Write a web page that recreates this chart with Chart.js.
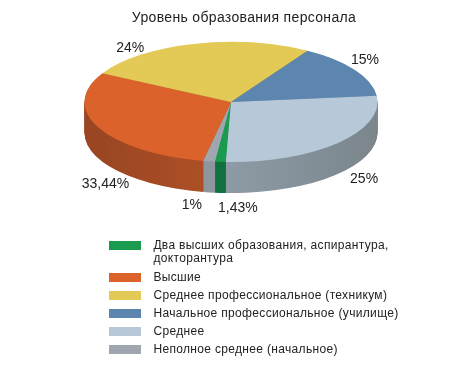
<!DOCTYPE html>
<html>
<head>
<meta charset="utf-8">
<style>body { margin: 0; background: #fff; }</style>
<script src="https://cdn.jsdelivr.net/npm/chart.js@4"></script>
</head>
<body>
<canvas id="chart" width="450" height="366"></canvas>
<script>
// slices, clockwise starting from the green one
const categories = [
    ['Два высших образования, аспирантура,', 'докторантура'],
    'Неполное среднее (начальное)',
    'Высшие',
    'Среднее профессиональное (техникум)',
    'Начальное профессиональное (училище)',
    'Среднее'
];
// the printed labels
const percentLabels = ['1,43%', '1%', '33,44%', '24%', '15%', '25%'];
// wedge sizes as drawn in the picture (the original does not draw them to the printed numbers)
const sliceShares = [1.2, 1.3, 29.9, 25.8, 14.6, 27.2];
// legend position of each slice
const legendOrder = [0, 5, 1, 2, 3, 4];

const colors = ['#1a9b4f', '#9fa6b0', '#db622a', '#e3c955', '#5c86ae', '#b7c8d8'];
const sideFrom = ['#0f7040', '#8f959c', '#9b4623', '#a8943e', '#44637f', '#8e9ba6'];
const sideTo = ['#0f7040', '#8f959c', '#ac4f25', '#a8943e', '#44637f', '#7a868b'];
const labelNudge = [[17.5, 46], [-17, 44], [7, 57], [-63, 4], [10, -10], [26, 36]];

const pie = { cx: 231, cy: 102, rx: 146.5, ry: 60, depth: 31 };
const legendAt = { left: 103, top: 233.5 };

// maps the round pie of Chart.js on the flat ellipse
function toEllipse(ctx, arc, shift) {
    ctx.translate(pie.cx, pie.cy + shift);
    ctx.scale(pie.rx / arc.outerRadius, pie.ry / arc.outerRadius);
    ctx.translate(-arc.x, -arc.y);
}

const pie3d = {
    id: 'pie3d',
    beforeLayout(chart) {
        // the original text is set a bit wider
        chart.ctx.letterSpacing = '0.33px';
    },
    afterLayout(chart) {
        const legend = chart.legend;
        legend.left = legendAt.left;
        legend.right = 450;
        legend.top = legendAt.top;
        legend.bottom = 366;
    },
    beforeDatasetDraw(chart) {
        const ctx = chart.ctx;
        const arcs = chart.getDatasetMeta(0).data;
        // side wall: stacked copies of the wedges, lowest first
        for (let d = pie.depth; d > 0; d--) {
            arcs.forEach((arc, i) => {
                ctx.save();
                ctx.beginPath();
                toEllipse(ctx, arc, d);
                ctx.moveTo(arc.x, arc.y);
                ctx.arc(arc.x, arc.y, arc.outerRadius, arc.startAngle, arc.endAngle);
                ctx.closePath();
                ctx.restore();
                const start = pie.cx + pie.rx * Math.cos(arc.startAngle);
                const end = pie.cx + pie.rx * Math.cos(arc.endAngle);
                const grad = ctx.createLinearGradient(Math.min(start, end), 0, Math.max(start, end) + 1, 0);
                grad.addColorStop(0, sideFrom[i]);
                grad.addColorStop(1, sideTo[i]);
                ctx.fillStyle = grad;
                ctx.fill();
            });
        }
        ctx.save();
        toEllipse(ctx, arcs[0], 0);
    },
    afterDatasetDraw(chart) {
        chart.ctx.restore();
    },
    afterDatasetsDraw(chart) {
        const ctx = chart.ctx;
        ctx.save();
        ctx.letterSpacing = '0px';
        ctx.font = '14px "Liberation Sans"';
        ctx.fillStyle = '#222';
        ctx.textAlign = 'center';
        ctx.textBaseline = 'middle';
        chart.getDatasetMeta(0).data.forEach((arc, i) => {
            const mid = (arc.startAngle + arc.endAngle) / 2;
            const x = pie.cx + pie.rx * Math.cos(mid) + labelNudge[i][0];
            const y = pie.cy + pie.ry * Math.sin(mid) + labelNudge[i][1];
            ctx.fillText(percentLabels[i], x, y);
        });
        ctx.restore();
    }
};

new Chart(document.getElementById('chart'), {
    type: 'pie',
    data: {
        labels: categories,
        datasets: [{
            data: sliceShares,
            backgroundColor: colors,
            borderWidth: 0,
            clip: false
        }]
    },
    options: {
        responsive: false,
        animation: false,
        rotation: 182,
        layout: { padding: { left: 38 } },
        plugins: {
            tooltip: { enabled: false },
            title: {
                display: true,
                text: 'Уровень образования персонала',
                color: '#222',
                font: { family: '"Liberation Sans"', size: 14, weight: 'normal' },
                padding: { top: 10, bottom: 10 }
            },
            legend: {
                position: 'left',
                align: 'start',
                labels: {
                    boxWidth: 32,
                    boxHeight: 9,
                    padding: 6,
                    color: '#222',
                    font: { family: '"Liberation Sans"', size: 12, lineHeight: 1.08 },
                    sort: (a, b) => legendOrder[a.index] - legendOrder[b.index],
                    generateLabels(chart) {
                        const items = Chart.overrides.pie.plugins.legend.labels.generateLabels(chart);
                        // wider gap between swatch and text
                        items.forEach(item => {
                            if (Array.isArray(item.text)) {
                                item.text = item.text.map(t => '\u00a0\u2009' + t);
                            } else {
                                item.text = '\u00a0\u2009' + item.text;
                            }
                        });
                        return items;
                    }
                }
            }
        }
    },
    plugins: [pie3d]
});
</script>
</body>
</html>
